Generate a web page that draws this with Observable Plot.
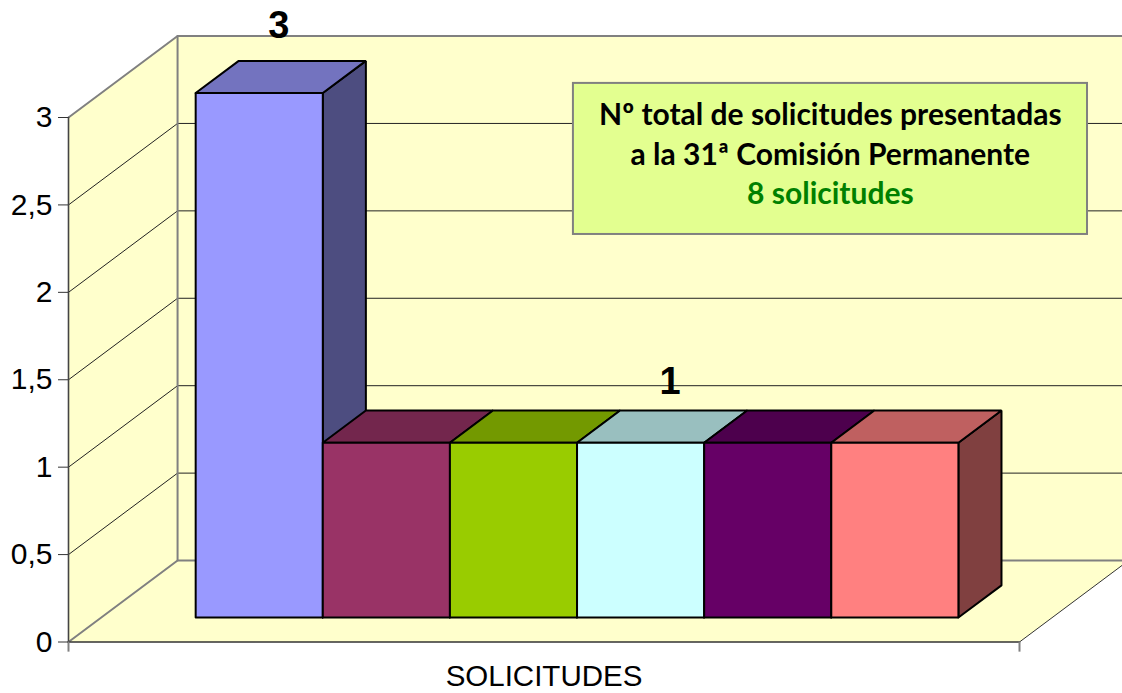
<!DOCTYPE html>
<html>
<head>
<meta charset="utf-8">
<script src="https://cdn.jsdelivr.net/npm/d3@7"></script>
<script src="https://cdn.jsdelivr.net/npm/@observablehq/plot@0.6"></script>
<style>html,body{margin:0;padding:0;background:#fff}svg{display:block}</style>
</head>
<body>
<div id="chart"></div>
<script>
const category = "SOLICITUDES";
const values = [3, 1, 1, 1, 1, 1];
const frontColors = ["#9999FF", "#993366", "#99CC00", "#CCFFFF", "#660066", "#FF8080"];
const topColors = ["#7373BF", "#73264D", "#739900", "#99BFBF", "#4D004D", "#BF6060"];
const sideColors = ["#4D4D80", "#4D1A33", "#4D6600", "#668080", "#330033", "#804040"];
const yTicks = [0, 0.5, 1, 1.5, 2, 2.5, 3];
const gridValues = [0.5, 1, 1.5, 2, 2.5];
const labelledSlots = [0, 3];
const noteLines = [
  {text: "Nº total de solicitudes presentadas", v: 3.012, color: "#000000"},
  {text: "a la 31ª Comisión Permanente", v: 2.783, color: "#000000"},
  {text: "8 solicitudes", v: 2.56, color: "#008000"}
];

// oblique projection: depth d (0 front .. 1 back) shifts x and y in data units
const DX = 0.858, DY = 0.466;
const XL = -0.743, XR = 6.738, YMAX = 3;
const D0 = 0.30, D1 = 0.695;
const P = (u, v, d) => ({x: u + d * DX, y: v + d * DY});
const seg = (pts, o) => Plot.line(pts.map(p => P(...p)), {x: "x", y: "y", strokeLinejoin: "miter", ...o});
const poly = (pts, o) => seg([...pts, pts[0]], o);

const wall = {fill: "#FFFFCC", stroke: "none"};
const gray = {stroke: "#808080", strokeWidth: 2};

const walls = [
  poly([[XL,0,0],[XL,0,1],[XL,YMAX,1],[XL,YMAX,0]], wall),
  poly([[XL,0,1],[XR,0,1],[XR,YMAX,1],[XL,YMAX,1]], wall),
  poly([[XL,0,0],[XR,0,0],[XR,0,1],[XL,0,1]], wall)
];
const grid = gridValues.map(v => seg([[XL,v,0],[XL,v,1],[XR,v,1]], {stroke: "#222", strokeWidth: 1}));
const frame = [
  seg([[XL,YMAX,0],[XL,YMAX,1],[XR,YMAX,1]], gray),
  seg([[XL,0,1],[XL,YMAX,1]], gray),
  seg([[XL,0,0],[XL,0,1],[XR,0,1]], gray),
  seg([[XR,0,0],[XR,0,1]], {stroke: "#333", strokeWidth: 1}),
  seg([[XL,0,0],[XL,YMAX,0]], {stroke: "#444", strokeWidth: 1.6}),
  seg([[XL,0,0],[XR,0,0]], {stroke: "#333", strokeWidth: 1.6}),
  Plot.ruleX([XL, XR], {y1: 0, y2: -0.058, stroke: "#808080", strokeWidth: 2})
];
const edge = {stroke: "#000", strokeWidth: 2};
const bars = values.flatMap((v, i) => [
  poly([[i+1,0,D0],[i+1,0,D1],[i+1,v,D1],[i+1,v,D0]], {fill: sideColors[i], ...edge}),
  poly([[i,v,D0],[i+1,v,D0],[i+1,v,D1],[i,v,D1]], {fill: topColors[i], ...edge}),
  poly([[i,0,D0],[i+1,0,D0],[i+1,v,D0],[i,v,D0]], {fill: frontColors[i], ...edge})
]);
const labelMark = (slot, dx, dy) => {
  const p = P(slot + 0.5, values[slot], (D0 + D1) / 2);
  return Plot.text([values[slot]], {x: () => p.x, y: () => p.y, text: d => String(d), dx, dy,
    fontSize: 38, fontWeight: "bold", fill: "#000"});
};

const chart = Plot.plot({
  width: 1122, height: 693,
  marginLeft: 68, marginRight: 103, marginTop: 117, marginBottom: 51.5,
  style: {fontFamily: "'Liberation Sans', Arial, sans-serif", background: "transparent", overflow: "hidden"},
  x: {domain: [XL, XR], axis: null},
  y: {domain: [0, YMAX], axis: null},
  marks: [
    ...walls, ...grid, ...frame, ...bars,
    Plot.axisY({ticks: yTicks, tickFormat: d => String(d).replace(".", ","), tickSize: 10, tickPadding: 6,
      fontSize: 30, label: null, stroke: "#333", fill: "#000"}),
    Plot.text([category], {x: () => (XL + XR) / 2, y: () => 0, text: d => d, dy: 35, fontSize: 29.5, fill: "#000"}),
    labelMark(labelledSlots[0], -2, -51),
    labelMark(labelledSlots[1], 8, -45),
    Plot.rect([0], {x1: () => 3.229, x2: () => 7.273, y1: () => 2.331, y2: () => 3.195, fill: "#E3FF90", stroke: "#808080", strokeWidth: 2}),
    Plot.text(noteLines, {x: () => 5.25, y: "v", text: "text", fill: "color", fontSize: 30, fontWeight: "bold",
      fontFamily: "Lato, 'Open Sans', sans-serif"})
  ]
});
document.getElementById("chart").append(chart);
</script>
</body>
</html>
